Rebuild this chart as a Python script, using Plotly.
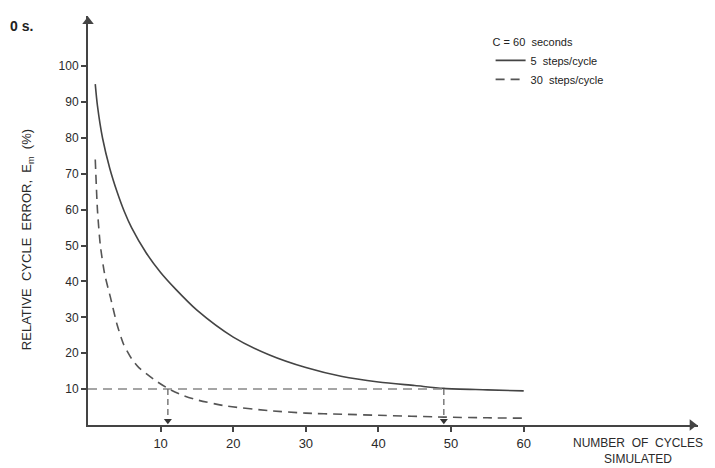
import plotly.graph_objects as go

# ---- data ----
solid_x = [1, 1.3, 2, 3, 4, 5, 6, 8, 10, 12, 15, 20, 25, 30, 35, 40, 45, 49, 55, 60]
solid_y = [95, 89, 80, 71.5, 65, 59.5, 55, 48, 42.5, 38, 32, 24.5, 19.5, 16, 13.5, 12, 11, 10.2, 9.8, 9.5]

dash_x = [1, 1.3, 1.7, 2.3, 3.1, 4, 4.9, 6, 7, 9, 11, 13, 15, 19, 25, 30, 35, 40, 49, 55, 60]
dash_y = [74, 60, 50, 42, 35.5, 28, 22.5, 18.5, 16, 12.8, 10.2, 8.3, 7, 5.3, 4, 3.3, 3, 2.7, 2.2, 2.0, 1.9]

target_error = 10
cycles_needed = [11, 49]

x_ticks = [10, 20, 30, 40, 50, 60]
y_ticks = [10, 20, 30, 40, 50, 60, 70, 80, 90, 100]

x_max = 84
y_max = 114

FONT = "Liberation Sans, Arial, sans-serif"
INK = "#2a2a2a"

fig = go.Figure()

fig.add_trace(go.Scatter(
    x=solid_x, y=solid_y, mode="lines", name="5  steps/cycle",
    line=dict(color="#444444", width=1.6, shape="spline", smoothing=0.8),
))
fig.add_trace(go.Scatter(
    x=dash_x, y=dash_y, mode="lines", name="30  steps/cycle",
    line=dict(color="#555555", width=1.6, dash="9px,6px", shape="spline", smoothing=0.6),
))

# 10 % reference line and drop lines
fig.add_trace(go.Scatter(
    x=[0, cycles_needed[1]], y=[target_error, target_error], mode="lines",
    line=dict(color="#888888", width=1.5, dash="9px,6px"), showlegend=False, hoverinfo="skip",
))
for c in cycles_needed:
    fig.add_trace(go.Scatter(
        x=[c, c], y=[target_error, 0.8], mode="lines",
        line=dict(color="#666666", width=1.3, dash="6px,4px"), showlegend=False, hoverinfo="skip",
    ))

# arrowheads: drop-line arrows and axis arrows
fig.add_trace(go.Scatter(
    x=cycles_needed, y=[1.2] * len(cycles_needed), mode="markers",
    marker=dict(symbol="triangle-down", size=7, color="#333333"),
    showlegend=False, hoverinfo="skip", cliponaxis=False,
))
fig.add_trace(go.Scatter(
    x=[0], y=[y_max - 1.5], mode="markers",
    marker=dict(symbol="triangle-up", size=10, color="#444444"),
    showlegend=False, hoverinfo="skip", cliponaxis=False,
))
fig.add_trace(go.Scatter(
    x=[x_max - 0.8], y=[0], mode="markers",
    marker=dict(symbol="triangle-right", size=10, color="#444444"),
    showlegend=False, hoverinfo="skip", cliponaxis=False,
))

annotations = [
    dict(
        x=-0.100, y=0.452, xref="paper", yref="paper", xanchor="center", yanchor="middle",
        text="RELATIVE  CYCLE  ERROR,  E<sub>m</sub>  (%)", textangle=-90, showarrow=False,
        font=dict(family=FONT, size=13, color=INK),
    ),
    dict(
        x=0.902, y=-0.064, xref="paper", yref="paper", xanchor="center", yanchor="middle",
        text="NUMBER  OF  CYCLES<br>SIMULATED", showarrow=False, align="center",
        font=dict(family=FONT, size=12, color=INK),
    ),
    dict(
        x=-0.131, y=1.0, xref="paper", yref="paper", xanchor="left", yanchor="top",
        text="<b>0 s.</b>", showarrow=False, font=dict(family=FONT, size=14, color="#222222"),
    ),
]

fig.update_layout(
    width=715, height=468,
    margin=dict(l=80, r=25, t=8, b=51),
    paper_bgcolor="white", plot_bgcolor="white",
    font=dict(family=FONT, size=12, color=INK),
    showlegend=True,
    legend=dict(
        x=0.66, y=0.962, xanchor="left", yanchor="top",
        title=dict(text="C = 60  seconds", font=dict(family=FONT, size=11, color="#222222")),
        font=dict(family=FONT, size=11, color="#222222"),
        bgcolor="rgba(0,0,0,0)", itemwidth=30, tracegroupgap=0,
    ),
    annotations=annotations,
    xaxis=dict(
        range=[0, x_max], tickvals=x_ticks, ticktext=[str(v) for v in x_ticks],
        showgrid=False, zeroline=False, showline=True, linecolor="#444444", linewidth=2,
        ticks="outside", ticklen=5, tickwidth=1.5, tickcolor="#444444",
        tickfont=dict(family=FONT, size=13, color=INK),
    ),
    yaxis=dict(
        range=[0, y_max], tickvals=y_ticks, ticktext=[str(v) for v in y_ticks],
        showgrid=False, zeroline=False, showline=True, linecolor="#444444", linewidth=2,
        ticks="outside", ticklen=5, tickwidth=1.5, tickcolor="#444444",
        tickfont=dict(family=FONT, size=12, color=INK),
    ),
)

fig.write_html("out.html")
